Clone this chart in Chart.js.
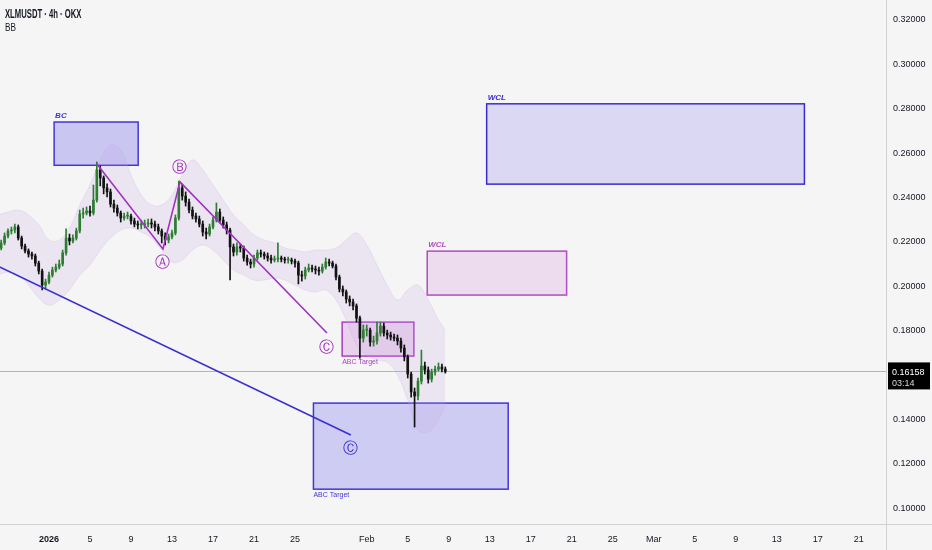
<!DOCTYPE html>
<html><head><meta charset="utf-8">
<script src="https://cdn.jsdelivr.net/npm/chart.js@4.4.1/dist/chart.umd.min.js"></script>
<style>
html,body{margin:0;padding:0;background:#f5f5f5;}
#wrap{position:relative;width:932px;height:550px;overflow:hidden;}
canvas{display:block;}
.hdr{position:absolute;left:5px;color:#131722;font-family:"Liberation Sans",Roboto,sans-serif;white-space:nowrap;transform-origin:0 0;}
#h1{top:7px;font-weight:bold;font-size:12px;transform:scaleX(0.64);}
#h2{top:21px;font-size:11px;transform:scaleX(0.75);}
</style></head><body>
<div id="wrap"><canvas id="c" width="932" height="550" style="width:932px;height:550px"></canvas>
<div class="hdr" id="h1">XLMUSDT · 4h · OKX</div><div class="hdr" id="h2">BB</div></div>
<script>
const FONT = '"Liberation Sans", Roboto, sans-serif';

// 8h candles, time in days from 2026-01-01 (first candle: 2025-12-27 00:00)
const candleStartDay = -5;
const candleStepDays = 1/3;
const opens = [0.2154,0.2172,0.2195,0.2226,0.2249,0.2253,0.2267,0.2217,0.2181,0.2159,
0.2145,0.2136,0.2104,0.2068,0.2005,0.2019,0.2050,0.2073,0.2086,0.2100,
0.2150,0.2217,0.2204,0.2217,0.2249,0.2325,0.2330,0.2339,0.2330,0.2388,
0.2524,0.2488,0.2443,0.2425,0.2370,0.2352,0.2330,0.2307,0.2316,0.2316,
0.2294,0.2280,0.2276,0.2276,0.2280,0.2285,0.2280,0.2267,0.2249,0.2226,
0.2208,0.2222,0.2240,0.2307,0.2443,0.2406,0.2379,0.2343,0.2316,0.2303,
0.2280,0.2244,0.2235,0.2267,0.2298,0.2334,0.2298,0.2276,0.2253,0.2177,
0.2154,0.2177,0.2172,0.2127,0.2109,0.2100,0.2127,0.2150,0.2145,0.2136,
0.2127,0.2118,0.2122,0.2127,0.2122,0.2118,0.2118,0.2113,0.2104,0.2050,
0.2046,0.2073,0.2082,0.2077,0.2073,0.2068,0.2086,0.2109,0.2104,0.2091,
0.2041,0.1987,0.1974,0.1942,0.1929,0.1911,0.1856,0.1766,0.1802,0.1802,
0.1748,0.1753,0.1789,0.1820,0.1789,0.1780,0.1771,0.1766,0.1753,0.1721,
0.1681,0.1604,0.1523,0.1505,0.1572,0.1640,0.1622,0.1581,0.1613,0.1626,
0.1636,0.1626];
const highs = [0.2181,0.2208,0.2240,0.2258,0.2267,0.2280,0.2276,0.2226,0.2190,0.2168,
0.2154,0.2145,0.2113,0.2077,0.2032,0.2064,0.2086,0.2100,0.2118,0.2163,
0.2258,0.2235,0.2231,0.2262,0.2343,0.2352,0.2357,0.2361,0.2456,0.2560,
0.2542,0.2497,0.2461,0.2438,0.2388,0.2366,0.2339,0.2330,0.2334,0.2325,
0.2307,0.2294,0.2298,0.2298,0.2303,0.2303,0.2294,0.2280,0.2258,0.2240,
0.2235,0.2253,0.2321,0.2474,0.2461,0.2425,0.2393,0.2357,0.2330,0.2316,
0.2294,0.2262,0.2280,0.2312,0.2375,0.2348,0.2312,0.2289,0.2262,0.2190,
0.2195,0.2190,0.2181,0.2140,0.2122,0.2140,0.2163,0.2163,0.2154,0.2150,
0.2140,0.2136,0.2195,0.2136,0.2131,0.2131,0.2127,0.2122,0.2113,0.2068,
0.2086,0.2100,0.2095,0.2091,0.2086,0.2100,0.2127,0.2122,0.2113,0.2100,
0.2050,0.2001,0.1983,0.1956,0.1942,0.1920,0.1865,0.1825,0.1825,0.1811,
0.1775,0.1838,0.1838,0.1834,0.1802,0.1793,0.1784,0.1780,0.1766,0.1735,
0.1690,0.1613,0.1541,0.1586,0.1712,0.1658,0.1636,0.1626,0.1640,0.1654,
0.1649,0.1636];
const lows = [0.2145,0.2163,0.2186,0.2217,0.2235,0.2240,0.2208,0.2168,0.2150,0.2131,
0.2122,0.2091,0.2055,0.1983,0.1987,0.2010,0.2041,0.2064,0.2077,0.2091,
0.2140,0.2186,0.2195,0.2208,0.2240,0.2307,0.2321,0.2316,0.2321,0.2379,
0.2452,0.2416,0.2402,0.2357,0.2334,0.2316,0.2289,0.2298,0.2303,0.2280,
0.2267,0.2258,0.2258,0.2262,0.2267,0.2262,0.2249,0.2235,0.2195,0.2186,
0.2195,0.2213,0.2231,0.2298,0.2388,0.2361,0.2330,0.2303,0.2289,0.2267,
0.2226,0.2213,0.2226,0.2258,0.2289,0.2285,0.2262,0.2235,0.2028,0.2136,
0.2140,0.2154,0.2113,0.2095,0.2082,0.2086,0.2118,0.2131,0.2122,0.2113,
0.2104,0.2109,0.2109,0.2109,0.2104,0.2104,0.2100,0.2086,0.2010,0.2023,
0.2032,0.2064,0.2064,0.2055,0.2050,0.2059,0.2077,0.2091,0.2082,0.2028,
0.1974,0.1956,0.1924,0.1911,0.1893,0.1838,0.1676,0.1748,0.1775,0.1730,
0.1730,0.1739,0.1775,0.1775,0.1762,0.1757,0.1753,0.1735,0.1703,0.1663,
0.1586,0.1500,0.1365,0.1487,0.1559,0.1604,0.1563,0.1568,0.1599,0.1617,
0.1613,0.1608];
const closes = [0.2172,0.2195,0.2226,0.2249,0.2253,0.2267,0.2217,0.2181,0.2159,0.2145,
0.2136,0.2104,0.2068,0.2005,0.2019,0.2050,0.2073,0.2086,0.2100,0.2150,
0.2217,0.2204,0.2217,0.2249,0.2325,0.2330,0.2339,0.2330,0.2388,0.2524,
0.2488,0.2443,0.2425,0.2370,0.2352,0.2330,0.2307,0.2316,0.2316,0.2294,
0.2280,0.2276,0.2276,0.2280,0.2285,0.2280,0.2267,0.2249,0.2226,0.2208,
0.2222,0.2240,0.2307,0.2443,0.2406,0.2379,0.2343,0.2316,0.2303,0.2280,
0.2244,0.2235,0.2267,0.2298,0.2334,0.2298,0.2276,0.2253,0.2177,0.2154,
0.2177,0.2172,0.2127,0.2109,0.2100,0.2127,0.2150,0.2145,0.2136,0.2127,
0.2118,0.2122,0.2127,0.2122,0.2118,0.2118,0.2113,0.2104,0.2050,0.2046,
0.2073,0.2082,0.2077,0.2073,0.2068,0.2086,0.2109,0.2104,0.2091,0.2041,
0.1987,0.1974,0.1942,0.1929,0.1911,0.1856,0.1766,0.1802,0.1802,0.1748,
0.1753,0.1789,0.1820,0.1789,0.1780,0.1771,0.1766,0.1753,0.1721,0.1681,
0.1604,0.1523,0.1505,0.1572,0.1640,0.1622,0.1581,0.1613,0.1626,0.1636,
0.1626,0.16158];

// Bollinger bands (daily samples)
const bbDays = [-5,-4,-3,-2,-1,0,1,2,3,4,5,6,7,8,9,10,11,12,13,14,15,16,17,18,19,20,21,22,23,24,25,26,27,28,29,30,31,32,33,34,35,36,37,38,38.67];
const bbUpper = [0.2321,0.2334,0.2343,0.2321,0.2276,0.2208,0.2208,0.2262,0.2366,0.2456,0.2569,0.2636,0.2614,0.2501,0.2411,0.2366,0.2366,0.2411,0.2501,0.2569,0.2524,0.2456,0.2389,0.2321,0.2276,0.2231,0.2208,0.2195,0.2172,0.2163,0.2154,0.2163,0.2163,0.2172,0.2208,0.2240,0.2186,0.2095,0.2005,0.1938,0.1983,0.2005,0.1938,0.1847,0.1802];
const bbLower = [0.2050,0.2064,0.2050,0.2005,0.1947,0.1915,0.1938,0.1983,0.2050,0.2095,0.2163,0.2217,0.2253,0.2262,0.2244,0.2217,0.2163,0.2109,0.2118,0.2163,0.2186,0.2163,0.2118,0.2073,0.2050,0.2028,0.2028,0.2037,0.2028,0.2005,0.1983,0.1974,0.1983,0.1938,0.1847,0.1735,0.1690,0.1667,0.1658,0.1599,0.1487,0.1352,0.1343,0.1397,0.1464];

// drawings
const trendDays = [-5.5, 29.45];
const trendPrices = [0.2102, 0.1329];
const zigzagDays = [4.68, 11.12, 12.78, 27.12];
const zigzagPrices = [0.2551, 0.2168, 0.2470, 0.1789];
const boxNames = ['BC', 'WCL', 'WCL', 'ABC Target', 'ABC Target'];
const boxStartDays = [0.5, 42.7, 36.9, 28.6, 25.8];
const boxEndDays = [8.7, 73.7, 50.5, 35.6, 44.8];
const boxHighs = [0.2740, 0.2822, 0.2158, 0.1838, 0.1473];
const boxLows = [0.2545, 0.2460, 0.1960, 0.1685, 0.1085];
const waveLabels = ['Ⓐ', 'Ⓑ', 'Ⓒ', 'Ⓒ'];
const waveDays = [11.12, 12.78, 27.12, 29.37];
const wavePrices = [0.2104, 0.2533, 0.1721, 0.1266];
const lastPrice = 0.16158;
const countdown = '03:14';

// axes
const xTickDays = [0,4,8,12,16,20,24,31,35,39,43,47,51,55,59,63,67,71,75,79];
const xTickLabels = ['2026','5','9','13','17','21','25','Feb','5','9','13','17','21','25','Mar','5','9','13','17','21'];
const yTickValues = [0.10,0.12,0.14,0.16,0.18,0.20,0.22,0.24,0.26,0.28,0.30,0.32];

const UP = '#2e7d32', DOWN = '#131313';
const BLUE = '#3a30d0', PURPLE = '#a032be';
const boxStyles = [
  {fill:'rgba(100,90,235,0.30)', stroke:'#4436d6', at:'top'},
  {fill:'rgba(110,100,235,0.20)', stroke:'#3a2ad0', at:'top'},
  {fill:'rgba(200,120,210,0.20)', stroke:'#b04cc4', at:'top'},
  {fill:'rgba(200,120,210,0.27)', stroke:'#a83fc0', at:'bottom'},
  {fill:'rgba(105,95,235,0.27)', stroke:'#4434d8', at:'bottom'}
];
const waveColors = [PURPLE, PURPLE, PURPLE, BLUE];

const candleX = opens.map((_, i) => candleStartDay + i * candleStepDays);
const colors = opens.map((o, i) => closes[i] >= o ? UP : DOWN);
const wickData = candleX.map((t, i) => ({x: t, y: [lows[i], highs[i]]}));
const bodyData = candleX.map((t, i) => ({x: t, y: [opens[i], closes[i]]}));
const upperPts = bbDays.map((d, i) => ({x: d, y: bbUpper[i]}));
const lowerPts = bbDays.map((d, i) => ({x: d, y: bbLower[i]}));
const trendPts = trendDays.map((d, i) => ({x: d, y: trendPrices[i]}));
const zigPts = zigzagDays.map((d, i) => ({x: d, y: zigzagPrices[i]}));

const drawings = {
  id: 'drawings',
  beforeDatasetsDraw(chart) {
    const {ctx, chartArea: a, scales: {x, y}} = chart;
    ctx.save();
    ctx.beginPath(); ctx.rect(a.left, a.top, a.right - a.left, a.bottom - a.top); ctx.clip();
    const py = Math.round(y.getPixelForValue(lastPrice)) + 0.5;
    ctx.strokeStyle = '#b4b4b4'; ctx.lineWidth = 1;
    ctx.beginPath(); ctx.moveTo(a.left, py); ctx.lineTo(a.right, py); ctx.stroke();
    boxNames.forEach((name, i) => {
      const st = boxStyles[i];
      const x0 = x.getPixelForValue(boxStartDays[i]), x1 = x.getPixelForValue(boxEndDays[i]);
      const y0 = y.getPixelForValue(boxHighs[i]), y1 = y.getPixelForValue(boxLows[i]);
      ctx.fillStyle = st.fill; ctx.fillRect(x0, y0, x1 - x0, y1 - y0);
      ctx.strokeStyle = st.stroke; ctx.lineWidth = 1.5; ctx.strokeRect(x0, y0, x1 - x0, y1 - y0);
      ctx.fillStyle = st.stroke; ctx.textAlign = 'left';
      if (st.at === 'top') {
        ctx.font = 'italic bold 8px ' + FONT; ctx.textBaseline = 'bottom';
        ctx.fillText(name, x0 + 1, y0 - 2);
      } else {
        ctx.font = '7px ' + FONT; ctx.textBaseline = 'top';
        ctx.fillText(name, x0, y1 + 2);
      }
    });
    ctx.restore();
  },
  afterDatasetsDraw(chart) {
    const {ctx, scales: {x, y}} = chart;
    ctx.save();
    ctx.textAlign = 'center'; ctx.textBaseline = 'middle';
    ctx.font = '15px "DejaVu Sans", sans-serif';
    waveLabels.forEach((s, i) => {
      ctx.fillStyle = waveColors[i];
      ctx.fillText(s, x.getPixelForValue(waveDays[i]), y.getPixelForValue(wavePrices[i]));
    });
    ctx.restore();
  },
  afterDraw(chart) {
    const {ctx, chartArea: a, scales: {y}} = chart;
    ctx.save();
    ctx.strokeStyle = '#d2d2d2'; ctx.lineWidth = 1;
    const by = Math.round(a.bottom) + 0.5, rx = Math.round(a.right) + 0.5;
    ctx.beginPath(); ctx.moveTo(0, by); ctx.lineTo(chart.width, by);
    ctx.moveTo(rx, 0); ctx.lineTo(rx, chart.height); ctx.stroke();
    const py = y.getPixelForValue(lastPrice);
    ctx.fillStyle = '#000';
    ctx.fillRect(a.right + 2, py - 9, chart.width - a.right - 4, 27);
    ctx.font = '9px ' + FONT; ctx.textAlign = 'left'; ctx.textBaseline = 'middle';
    ctx.fillStyle = '#fff'; ctx.fillText(lastPrice.toFixed(5), a.right + 6, py + 1);
    ctx.fillStyle = '#d8d8d8'; ctx.fillText(countdown, a.right + 6, py + 12);
    ctx.restore();
  }
};

new Chart(document.getElementById('c'), {
  type: 'bar',
  data: {
    datasets: [
      {type: 'bar', data: wickData, backgroundColor: colors, borderWidth: 0, barThickness: 1, grouped: false, order: 2},
      {type: 'bar', data: bodyData, backgroundColor: colors, borderWidth: 0, barThickness: 2, minBarLength: 1, grouped: false, order: 1},
      {type: 'line', data: upperPts, borderColor: 'rgba(200,165,225,0.25)', borderWidth: 1, pointRadius: 0, tension: 0.4, fill: '+1', backgroundColor: 'rgba(195,160,225,0.18)', order: 6},
      {type: 'line', data: lowerPts, borderColor: 'rgba(200,165,225,0.25)', borderWidth: 1, pointRadius: 0, tension: 0.4, fill: false, order: 7},
      {type: 'line', data: trendPts, borderColor: BLUE, borderWidth: 1.6, pointRadius: 0, fill: false, order: 0},
      {type: 'line', data: zigPts, borderColor: PURPLE, borderWidth: 1.6, pointRadius: 0, fill: false, tension: 0, order: 0}
    ]
  },
  options: {
    responsive: false,
    animation: false,
    events: [],
    layout: {padding: 0},
    plugins: {legend: {display: false}, tooltip: {enabled: false}},
    scales: {
      x: {
        type: 'linear', min: -4.78, max: 81.66, offset: false,
        grid: {display: false, drawTicks: false}, border: {display: false},
        afterBuildTicks: s => { s.ticks = xTickDays.map(v => ({value: v})); },
        afterFit: s => { s.height = 26; s.paddingLeft = 0; s.paddingRight = 0; },
        ticks: {
          autoSkip: false, maxRotation: 0, padding: 10, color: '#131722',
          font: c => ({family: FONT, size: 9, weight: xTickLabels[c.index] === '2026' ? 'bold' : 'normal'}),
          callback: v => xTickLabels[xTickDays.indexOf(v)]
        }
      },
      y: {
        type: 'linear', position: 'right', min: 0.0928, max: 0.3290,
        grid: {display: false, drawTicks: false}, border: {display: false},
        afterBuildTicks: s => { s.ticks = yTickValues.map(v => ({value: v})); },
        afterFit: s => { s.width = 46; s.paddingTop = 0; s.paddingBottom = 0; },
        ticks: {padding: 7, color: '#131722', font: {family: FONT, size: 9}, callback: v => v.toFixed(5)}
      }
    }
  },
  plugins: [drawings]
});
</script>
</body></html>
